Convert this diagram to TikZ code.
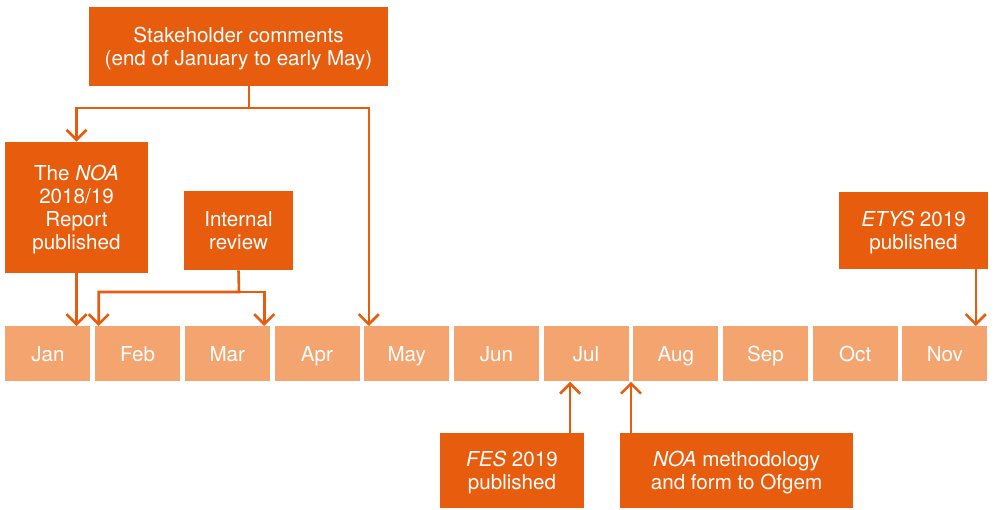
\documentclass[tikz,border=0pt]{standalone}
\usepackage{fontspec}
\setmainfont{TeX Gyre Heros}
\usepackage{xcolor}
\usetikzlibrary{arrows.meta}

\definecolor{noadark}{HTML}{E85C0D}
\definecolor{noalight}{HTML}{F4A46F}

\begin{document}
\begin{tikzpicture}[
    x=0.5pt, y=-0.5pt, >={Straight Barb[length=5pt,width=10pt]},
    event/.style={fill=noadark, text=white, inner sep=0pt, align=center,
      text height=#1, text depth=0pt, font=\fontsize{10.3}{11.5}\selectfont},
    month/.style={fill=noalight, text=white, inner sep=0pt, anchor=north west,
      minimum width=42.5pt, minimum height=27.5pt, text height=7.4pt, text depth=0pt,
      font=\fontsize{10.3}{11.5}\selectfont},
    link/.style={draw=noadark, line width=1.3pt, ->}
  ]
    \useasboundingbox (0,0) rectangle (995,509);

    % timeline
    \foreach \m [count=\i from 0] in {Jan,Feb,Mar,Apr,May,Jun,Jul,Aug,Sep,Oct,Nov}
      \node[month] (\m) at (5+89.7*\i,326) {\m};

    % events
    \node[event=18.9pt, minimum width=149.5pt, minimum height=39.5pt] (comments) at (238.5,46.5)
      {Stakeholder comments\\(end of January to early May)};
    \node[event=41.9pt, minimum width=71.5pt, minimum height=65.5pt] (report) at (76.5,207.5)
      {The \textit{NOA}\\2018/19\\Report\\published};
    \node[event=18.9pt, minimum width=54.5pt, minimum height=39.5pt] (review) at (238.5,230.5)
      {Internal\\review};
    \node[event=18.9pt, minimum width=74.5pt, minimum height=38.5pt] (etys) at (913.5,230.5)
      {\textit{ETYS} 2019\\published};
    \node[event=18.9pt, minimum width=72pt, minimum height=37.5pt] (fes) at (512,470.5)
      {\textit{FES} 2019\\published};
    \node[event=18.9pt, minimum width=116.5pt, minimum height=37.5pt] (ofgem) at (736.5,470.5)
      {\textit{NOA} methodology\\and form to Ofgem};

    \coordinate (split) at (249,108);
    \coordinate (join) at (239,292);
    \coordinate (may-in) at ([xshift=2.5pt]May.north west);
    \coordinate (nov-in) at ([xshift=-6pt]Nov.north east);
    \coordinate (jul-fes) at ([xshift=-8pt]Jul.south);
    \coordinate (jul-ofgem) at ([xshift=1pt]Jul.south east);

    \draw[link] (comments.south -| split) -- (split) -| (report.north);
    \draw[link] (split) -| (may-in);
    \draw[link] (report.south) -- (report.south |- Jan.north);
    \draw[link] (review.south) -- (join) -| ([xshift=2pt]Feb.north west);
    \draw[link] (join) -| ([xshift=-3pt]Mar.north east);
    \draw[link] (etys.south -| nov-in) -- (nov-in);
    \draw[link] (fes.north -| jul-fes) -- (jul-fes);
    \draw[link] (ofgem.north -| jul-ofgem) -- (jul-ofgem);
\end{tikzpicture}
\end{document}
